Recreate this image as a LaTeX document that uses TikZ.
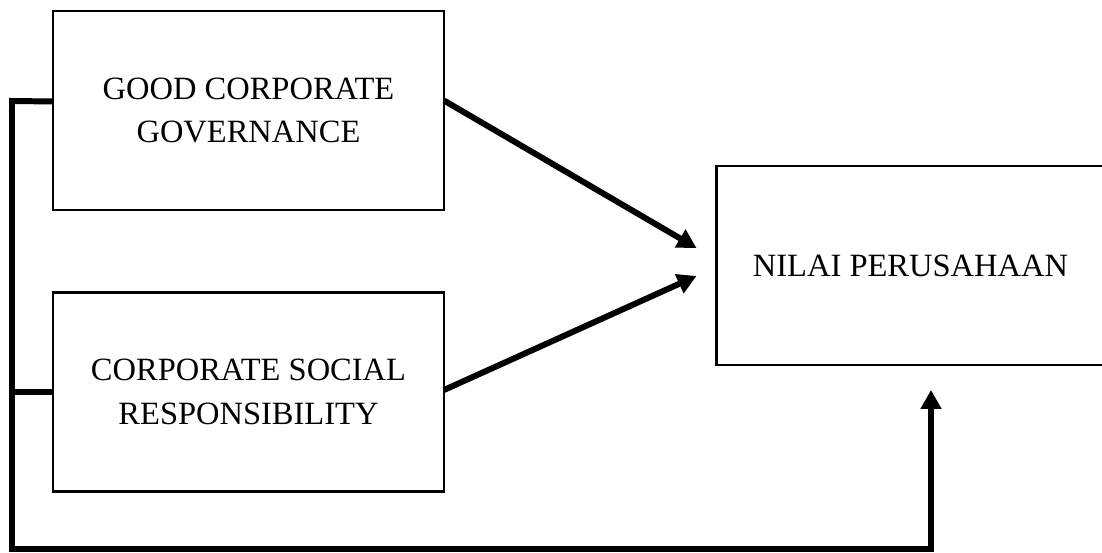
\documentclass[tikz,border=0pt]{standalone}
\usepackage{fontspec}
\setmainfont{Liberation Serif}
\usepackage{tikz}
\usetikzlibrary{arrows.meta,positioning}
\tikzset{
  fw diagram/.style={x=0.02cm, y=-0.02cm, line join=miter},
  fw box/.style={draw=black, line width=1.2pt, fill=white, align=center,
    outer sep=0pt, inner sep=0pt, font=\fontsize{18.5}{25}\selectfont},
  fw var/.style={fw box, minimum width=7.82cm, minimum height=3.98cm},
  fw link/.style={draw=black, line width=3.4pt},
  fw arrow/.style={fw link, -{Triangle[length=0.38cm,width=0.4cm]}}
}
\begin{document}
\begin{tikzpicture}[fw diagram]
\useasboundingbox (0,0) rectangle (1102,553);
\node[fw var] (gcg) at (248.5,110.5) {GOOD CORPORATE\\GOVERNANCE};
\node[fw var] (csr) at (248.5,392) {CORPORATE SOCIAL\\RESPONSIBILITY};
\node[fw box, minimum width=7.76cm, minimum height=3.98cm] (nilai) at (910.5,265.5) {NILAI PERUSAHAAN};
% joint line on the left
\coordinate (top) at (12,101);
\coordinate (mid) at (12,392);
\coordinate (low) at (12,549);
\coordinate (turn) at (931,549);
\draw[fw link] (mid) -- (csr.west);
\draw[fw arrow] ([yshift=0.18cm]gcg.west) -- (top) -- (low) -- (turn)
  -- ([xshift=0.41cm,yshift=-0.5cm]nilai.south);
% partial effects
\draw[fw arrow] ([yshift=0.2cm]gcg.east) -- ([xshift=-0.4cm,yshift=0.35cm]nilai.west);
\draw[fw arrow] ([yshift=0.04cm]csr.east) -- ([xshift=-0.4cm,yshift=-0.21cm]nilai.west);
\end{tikzpicture}
\end{document}
